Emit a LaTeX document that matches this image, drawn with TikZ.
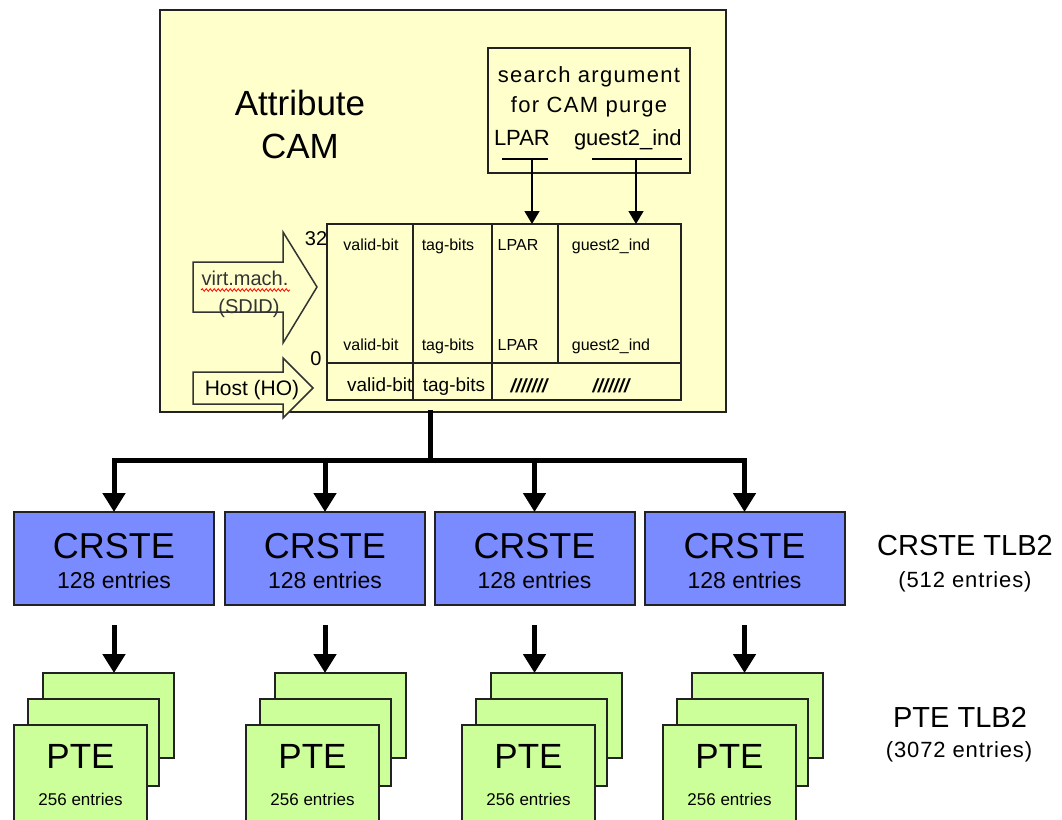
\documentclass[tikz,border=0pt]{standalone}
\usepackage{fontspec}
\setmainfont{Liberation Sans}
\usetikzlibrary{arrows.meta,decorations.pathmorphing}
\definecolor{camyellow}{HTML}{FFFFCC}
\definecolor{crsteblue}{HTML}{7A8AFF}
\definecolor{ptegreen}{HTML}{CCFF99}
\definecolor{edgec}{HTML}{222222}
\definecolor{arrowedge}{HTML}{333333}
\newcommand{\fsz}[1]{\fontsize{#1}{#1}\selectfont}
\begin{document}
\begin{tikzpicture}[x=1pt,y=-1pt,
  every node/.style={inner sep=0pt,outer sep=0pt},
  camstyle/.style={draw=edgec,line width=1.5pt,fill=camyellow},
  framebox/.style={draw=edgec,line width=1.5pt},
  crstebox/.style={draw=edgec,line width=2pt,fill=crsteblue,minimum width=200pt,minimum height=93pt},
  ptebox/.style={draw=edgec,line width=2pt,fill=ptegreen,anchor=north west},
  blockarrow/.style={draw=arrowedge,line width=1.5pt,fill=camyellow,line join=miter},
  thinarrow/.style={line width=1.5pt,-{Triangle[width=15pt,length=13pt]}},
  bigarrow/.style={line width=5pt,-{Triangle[width=22pt,length=19pt]}},
  busline/.style={line width=5pt,line cap=rect},
  celltext/.style={anchor=base,font=\fsz{16}},
  lowtext/.style={anchor=base,font=\fsz{19}},
]
\useasboundingbox (0,0) rectangle (1062,819);
\clip (0,0) rectangle (1062,819);

% Attribute CAM box
\node[camstyle,minimum width=566pt,minimum height=402pt] (cam) at (443,211) {};
\node[anchor=base,font=\fsz{35}] (attr) at (300,115) {Attribute};
\node[anchor=base,font=\fsz{35}] (camlbl) at (300,158) {CAM};

% search argument box
\node[framebox,minimum width=202pt,minimum height=125pt] (sa) at (589,110.5) {};
\node[anchor=base,font=\fsz{22}\addfontfeature{LetterSpace=6}] (sa1) at (589,82) {search argument};
\node[anchor=base,font=\fsz{22}\addfontfeature{LetterSpace=6}] (sa2) at (589,112) {for CAM purge};
\node[anchor=base west,font=\fsz{22}] (salpar) at (494,145) {LPAR};
\node[anchor=base west,font=\fsz{22}] (saguest) at (574,145) {guest2\_ind};
\draw[line width=1.5pt] (502,159) -- (548,159);
\draw[line width=1.5pt] (592,159) -- (682,159);
\coordinate (lpA) at (532,159);
\coordinate (gsA) at (636,159);

% table
\node[framebox,minimum width=354pt,minimum height=176pt] (tbl) at (504,312) {};
\draw[line width=1.5pt,edgec] (413,224) -- (413,400);
\draw[line width=1.5pt,edgec] (492,224) -- (492,400);
\draw[line width=1.5pt,edgec] (558,224) -- (558,363);
\draw[line width=1.5pt,edgec] (327,363) -- (681,363);
\draw[thinarrow] (lpA) -- (lpA |- tbl.north);
\draw[thinarrow] (gsA) -- (gsA |- tbl.north);

\node[celltext] (v1) at (371,250) {valid-bit};
\node[celltext] (t1) at (448,250) {tag-bits};
\node[celltext] (l1) at (518,250) {LPAR};
\node[celltext] (g1) at (611,250) {guest2\_ind};
\node[celltext] (v2) at (371,350) {valid-bit};
\node[celltext] (t2) at (448,350) {tag-bits};
\node[celltext] (l2) at (518,350) {LPAR};
\node[celltext] (g2) at (611,350) {guest2\_ind};
\begin{scope}
\clip (327,363) rectangle (412,400);
\node[anchor=base west,font=\fsz{19}] (v3) at (347,391) {valid-bit};
\end{scope}
\node[lowtext] (t3) at (454,391) {tag-bits};
\node[lowtext] (s3a) at (529,392) {\bfseries\itshape ///////};
\node[lowtext] (s3b) at (611,392) {\bfseries\itshape ///////};

\node[anchor=base,font=\fsz{20}] (n32) at (316,245) {32};
\node[anchor=base,font=\fsz{20}] (n0) at (316,365) {0};

% block arrows
\draw[blockarrow] (193,262) -- (283,262) -- (283,232) -- (317,287) -- (283,343) -- (283,312) -- (193,312) -- cycle;
\node[anchor=base,font=\fsz{20},text=black!80] (vm) at (245,285) {virt.mach.};
\node[anchor=base,font=\fsz{20},text=black!80] (sdid) at (249,313) {(SDID)};
\draw[red,line width=0.8pt,decorate,decoration={snake,amplitude=1.3pt,segment length=4pt}] (201,290) -- (290,290);

\draw[blockarrow] (193,372) -- (283,372) -- (283,358) -- (313,388) -- (283,418) -- (283,404) -- (193,404) -- cycle;
\node[anchor=base,font=\fsz{21}] (host) at (252,395) {Host (HO)};

% CRSTE boxes
\node[crstebox] (c1) at (114,558.5) {};
\node[crstebox] (c2) at (325,558.5) {};
\node[crstebox] (c3) at (534.5,558.5) {};
\node[crstebox] (c4) at (744.5,558.5) {};
\foreach \c in {c1,c2,c3,c4}{
  \node[anchor=base,font=\fsz{36}] at (\c.center |- 0,558) {CRSTE};
  \node[anchor=base,font=\fsz{23}] at (\c.center |- 0,588) {128 entries};
}

% bus
\coordinate (busc) at (430,460);
\draw[busline] (cam.south -| busc) -- (busc);
\draw[busline] (c1.north |- busc) -- (c4.north |- busc);
\foreach \c in {c1,c2,c3,c4}{
  \draw[bigarrow] (\c.north |- busc) -- (\c.north);
}

% PTE stacks
\foreach \i/\fx in {1/14,2/246,3/462,4/663}{
  \node[ptebox,minimum width=131pt,minimum height=85pt] (p\i b) at (\fx+29,673) {};
  \node[ptebox,minimum width=131pt,minimum height=87pt] (p\i m) at (\fx+14,699) {};
  \node[ptebox,minimum width=133pt,minimum height=120pt] (p\i f) at (\fx,725) {};
  \node[anchor=base,font=\fsz{35}] (p\i t) at (\fx+66.5,768) {PTE};
  \node[anchor=base,font=\fsz{17}] (p\i e) at (\fx+66.5,805) {256 entries};
}
\foreach \i in {1,2,3,4}{
  \draw[bigarrow] ([yshift=-20pt]c\i.south) -- (c\i.south |- p\i b.north);
}

% right labels
\node[anchor=base,font=\fsz{29}] (crtlb) at (965,555) {CRSTE TLB2};
\node[anchor=base,font=\fsz{22}\addfontfeature{LetterSpace=4}] (crent) at (965,587) {(512 entries)};
\node[anchor=base,font=\fsz{29}] (ptetlb) at (960,727) {PTE TLB2};
\node[anchor=base,font=\fsz{22}\addfontfeature{LetterSpace=4}] (pteent) at (959,757) {(3072 entries)};
\end{tikzpicture}
\end{document}
